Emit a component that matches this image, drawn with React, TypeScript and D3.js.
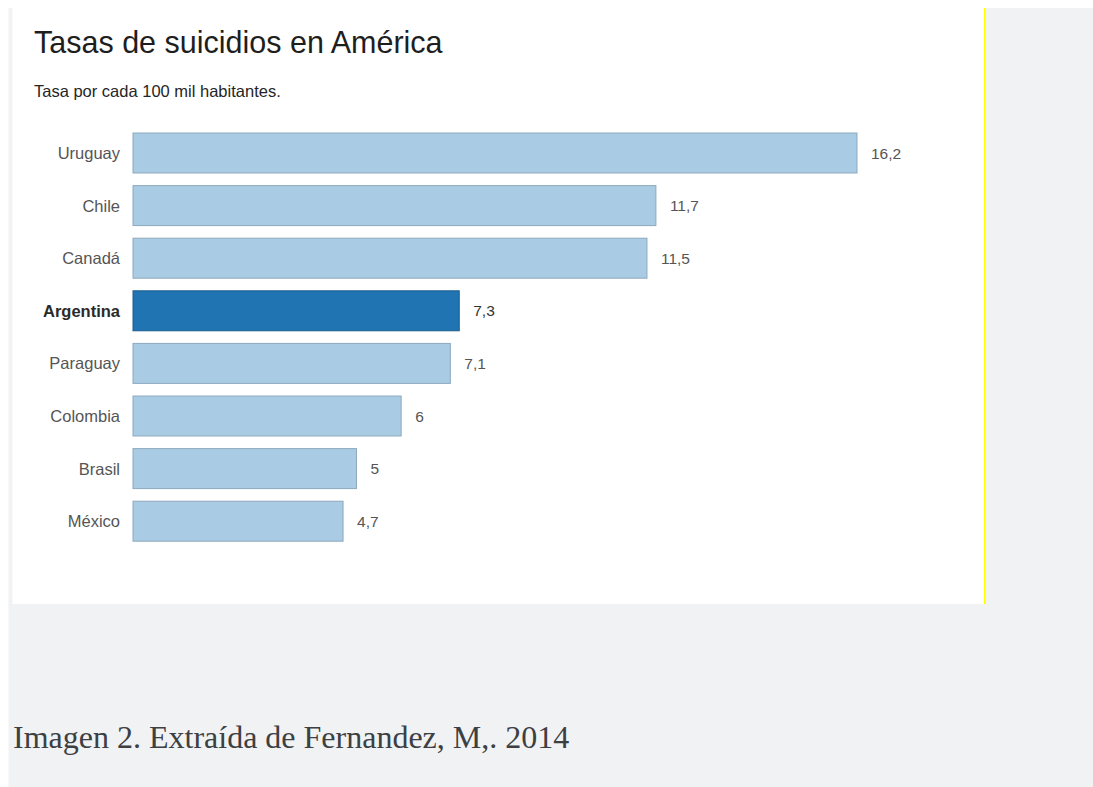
import React from "react";
import * as d3 from "d3";

const countries = ["Uruguay", "Chile", "Canadá", "Argentina", "Paraguay", "Colombia", "Brasil", "México"];
const rates = [16.2, 11.7, 11.5, 7.3, 7.1, 6, 5, 4.7];
const valueLabels = ["16,2", "11,7", "11,5", "7,3", "7,1", "6", "5", "4,7"];
const highlighted = "Argentina";

const W = 1093;
const H = 787;

export default function App() {
  const x = d3.scaleLinear().domain([0, 16.2]).range([133, 857]);
  const y = d3.scaleBand<string>().domain(countries).range([126.7, 547.5]).paddingInner(0.24).paddingOuter(0.12);
  const sans = "'Liberation Sans', Arial, Helvetica, sans-serif";

  return (
    <svg width={W} height={H} style={{ position: "fixed", left: 0, top: 0, display: "block" }}>
      <rect x={0} y={0} width={W} height={H} fill="#ffffff" />
      <rect x={8.5} y={8} width={W - 8.5} height={H - 8} fill="#f1f2f4" />
      <rect x={12.5} y={8} width={972} height={596} fill="#ffffff" />
      <rect x={984} y={8} width={1.5} height={596} fill="#ffff00" />

      <text x={34} y={52.5} fontFamily={sans} fontSize={30.5} fill="#1e1e1e">Tasas de suicidios en América</text>
      <text x={34} y={97} fontFamily={sans} fontSize={16.5} fill="#262626">Tasa por cada 100 mil habitantes.</text>

      {countries.map((c, i) => {
        const isHi = c === highlighted;
        const by = y(c) as number;
        const bh = y.bandwidth();
        const cy = by + bh / 2;
        return (
          <g key={c}>
            <rect
              x={x(0)}
              y={by}
              width={x(rates[i]) - x(0)}
              height={bh}
              fill={isHi ? "#1f74b1" : "#a9cbe3"}
              stroke={isHi ? "#185c8e" : "#8ca9be"}
              strokeWidth={1}
            />
            <text
              x={120}
              y={cy}
              textAnchor="end"
              dominantBaseline="central"
              fontFamily={sans}
              fontSize={16.5}
              fontWeight={isHi ? "bold" : "normal"}
              fill={isHi ? "#2a2a2a" : "#555555"}
            >
              {c}
            </text>
            <text
              x={x(rates[i]) + 14}
              y={cy}
              dominantBaseline="central"
              fontFamily={sans}
              fontSize={15.5}
              fill={isHi ? "#333333" : "#555555"}
            >
              {valueLabels[i]}
            </text>
          </g>
        );
      })}

      <text x={13} y={748} fontFamily="'Liberation Serif', 'Times New Roman', serif" fontSize={32} fill="#3c4043">
        Imagen 2. Extraída de Fernandez, M,. 2014
      </text>
    </svg>
  );
}
